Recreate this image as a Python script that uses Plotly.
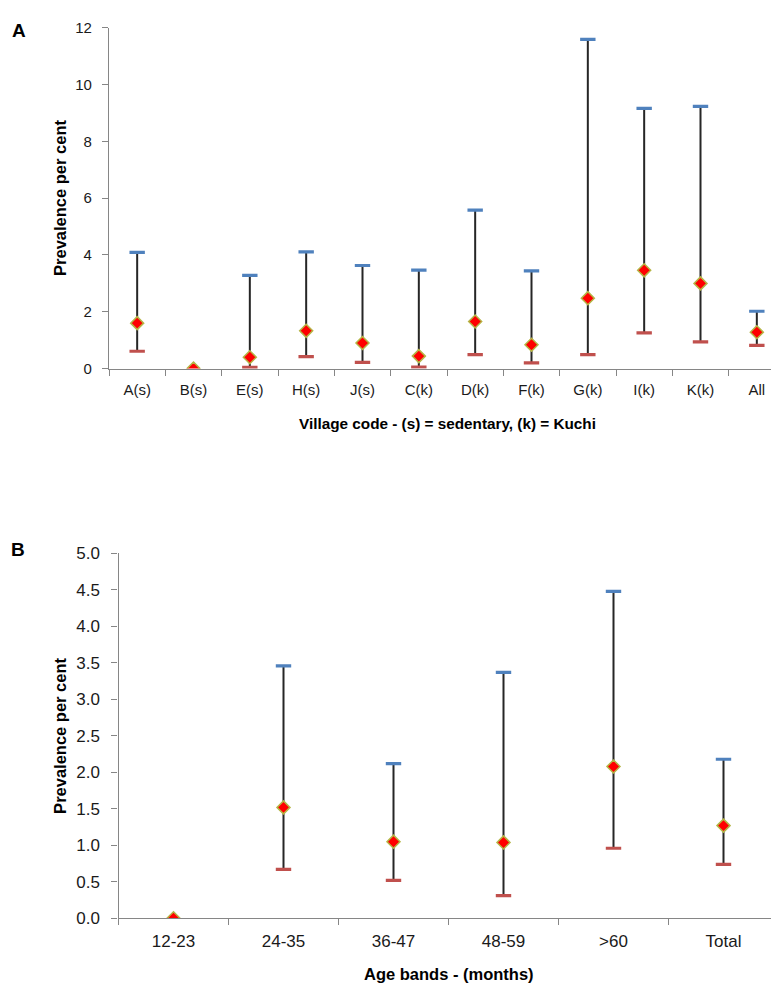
import plotly.graph_objects as go

# ---- Panel A data ----
villages = ["A(s)", "B(s)", "E(s)", "H(s)", "J(s)", "C(k)", "D(k)", "F(k)", "G(k)", "I(k)", "K(k)", "All"]
prev_a = [1.60, 0.0, 0.40, 1.33, 0.90, 0.44, 1.66, 0.84, 2.48, 3.46, 3.00, 1.28]
upper_a = [4.09, None, 3.28, 4.11, 3.63, 3.47, 5.58, 3.44, 11.59, 9.16, 9.23, 2.02]
lower_a = [0.61, None, 0.04, 0.42, 0.22, 0.05, 0.49, 0.20, 0.49, 1.26, 0.94, 0.82]
yticks_a = [0, 2, 4, 6, 8, 10, 12]

# ---- Panel B data ----
ages = ["12-23", "24-35", "36-47", "48-59", ">60", "Total"]
prev_b = [0.0, 1.52, 1.05, 1.04, 2.08, 1.27]
upper_b = [None, 3.46, 2.12, 3.37, 4.48, 2.18]
lower_b = [None, 0.67, 0.52, 0.31, 0.96, 0.74]
yticks_b = [0.0, 0.5, 1.0, 1.5, 2.0, 2.5, 3.0, 3.5, 4.0, 4.5, 5.0]

W, H = 779, 986
BLUE = "#4F81BD"
RED_CAP = "#C0504D"
MEAN_FILL = "#FF0000"
MEAN_EDGE = "#B5B545"
AXIS_COL = "#868686"

fig = go.Figure()


def add_panel(cats, mean, up, lo, xa, ya):
    xs, ys = [], []
    for c, u, l in zip(cats, up, lo):
        if u is None or l is None:
            continue
        xs += [c, c, None]
        ys += [l, u, None]
    fig.add_trace(go.Scatter(x=xs, y=ys, mode="lines", line=dict(color="#262626", width=2),
                             xaxis=xa, yaxis=ya, hoverinfo="skip", showlegend=False))
    fig.add_trace(go.Scatter(x=cats, y=up, mode="markers", xaxis=xa, yaxis=ya, showlegend=False,
                             marker=dict(symbol="line-ew", size=11, line=dict(color=BLUE, width=3.2))))
    fig.add_trace(go.Scatter(x=cats, y=lo, mode="markers", xaxis=xa, yaxis=ya, showlegend=False,
                             marker=dict(symbol="line-ew", size=11, line=dict(color=RED_CAP, width=3.2))))
    fig.add_trace(go.Scatter(x=cats, y=mean, mode="markers", xaxis=xa, yaxis=ya, showlegend=False,
                             marker=dict(symbol="diamond", size=10, color=MEAN_FILL,
                                         line=dict(color=MEAN_EDGE, width=1.5))))


add_panel(villages, prev_a, upper_a, lower_a, "x", "y")
add_panel(ages, prev_b, upper_b, lower_b, "x2", "y2")

FONT = "Liberation Sans, Arial, sans-serif"
TICKCOL = "#1a1a1a"


def px_x(p):
    return p / W


def px_y(p):
    return 1 - p / H


common_x = dict(type="category", showline=True, linecolor=AXIS_COL, linewidth=1.3,
                ticks="outside", tickcolor=AXIS_COL, ticklen=6, tickson="boundaries",
                showgrid=False, zeroline=False, fixedrange=True, categoryorder="array")
common_y = dict(showline=True, linecolor=AXIS_COL, linewidth=1.3, ticks="outside",
                tickcolor=AXIS_COL, ticklen=6, showgrid=False, zeroline=False, fixedrange=True)

fig.update_layout(
    width=W, height=H, margin=dict(l=0, r=0, t=0, b=0),
    paper_bgcolor="white", plot_bgcolor="white", showlegend=False,
    xaxis=dict(common_x, domain=[px_x(101), px_x(777)], range=[-0.5, len(villages) - 0.5],
               categoryarray=villages, anchor="y", ticklabelstandoff=7,
               tickfont=dict(family=FONT, size=15, color=TICKCOL)),
    yaxis=dict(common_y, domain=[px_y(358.5), px_y(11)], range=[0, 12], tickvals=yticks_a,
               anchor="x", ticklabelstandoff=7, tickfont=dict(family=FONT, size=15, color=TICKCOL)),
    xaxis2=dict(common_x, domain=[px_x(110.5), px_x(770.5)], range=[-0.5, len(ages) - 0.5],
                categoryarray=ages, anchor="y2", ticklabelstandoff=7,
                tickfont=dict(family=FONT, size=17, color=TICKCOL)),
    yaxis2=dict(common_y, domain=[px_y(919), px_y(547)], range=[0, 5], tickvals=yticks_b,
                tickformat=".1f", anchor="x2", ticklabelstandoff=8,
                tickfont=dict(family=FONT, size=17, color=TICKCOL)),
)

ann = [
    dict(text="<b>A</b>", x=px_x(2), y=px_y(13.5), xanchor="left", yanchor="middle",
         font=dict(family=FONT, size=19, color="#000")),
    dict(text="<b>B</b>", x=px_x(1), y=px_y(542.5), xanchor="left", yanchor="middle",
         font=dict(family=FONT, size=19, color="#000")),
    dict(text="<b>Prevalence per cent</b>", x=px_x(52), y=px_y(184.5), textangle=-90,
         xanchor="center", yanchor="middle", font=dict(family=FONT, size=16.5, color="#000")),
    dict(text="<b>Prevalence per cent</b>", x=px_x(52), y=px_y(733), textangle=-90,
         xanchor="center", yanchor="middle", font=dict(family=FONT, size=16.5, color="#000")),
    dict(text="<b>Village code - (s) = sedentary, (k) = Kuchi</b>", x=px_x(439), y=px_y(414),
         xanchor="center", yanchor="middle", font=dict(family=FONT, size=15.3, color="#000")),
    dict(text="<b>Age bands - (months)</b>", x=px_x(441), y=px_y(976),
         xanchor="center", yanchor="middle", font=dict(family=FONT, size=16.5, color="#000")),
]
for a in ann:
    a.update(xref="paper", yref="paper", showarrow=False)
fig.update_layout(annotations=ann)

fig.write_html("out.html")
